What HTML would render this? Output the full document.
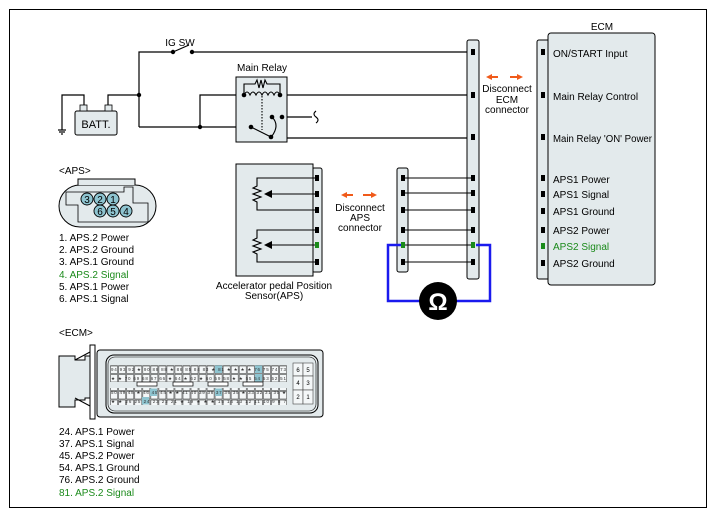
<!DOCTYPE html>
<html><head><meta charset="utf-8"><style>
body{margin:0;background:#fff}
svg{display:block;font-family:"Liberation Sans",Arial,sans-serif}
</style></head><body>
<svg width="717" height="518" viewBox="0 0 717 518" xmlns="http://www.w3.org/2000/svg">
<defs>
<pattern id="pin" x="110" y="0" width="8.05" height="8.5" patternUnits="userSpaceOnUse">
<rect x="0.5" y="0.5" width="7.05" height="7.5" fill="#f4f7f8" stroke="#444" stroke-width="0.6"/>
</pattern>
</defs>
<rect x="9.5" y="9.5" width="697" height="498" fill="#fff" stroke="#000" stroke-width="1"/>
<g stroke="#000" stroke-width="1.2" fill="none">
<polyline points="139,127 139,52 173,52"/>
<line x1="173" y1="52" x2="189" y2="45"/>
<line x1="192" y1="52" x2="473" y2="52"/>
<polyline points="84,111 84,95 62,95 62,130"/>
<line x1="58" y1="130" x2="66" y2="130"/><line x1="59" y1="132" x2="65" y2="132"/><line x1="61" y1="134" x2="63" y2="134"/>
<polyline points="108,111 108,95 139,95"/>
<line x1="139" y1="127" x2="251" y2="127"/>
<polyline points="200,127 200,95 473,95"/>
<line x1="272" y1="117" x2="312" y2="117"/>
<polyline points="282,117 282,138 473,138"/>
</g>
<rect x="75" y="111" width="42" height="24" rx="2" fill="#e3eaec" stroke="#000"/>
<rect x="80" y="105" width="7" height="6" fill="#e3eaec" stroke="#000" stroke-width="0.8"/>
<rect x="105" y="105" width="7" height="6" fill="#e3eaec" stroke="#000" stroke-width="0.8"/>
<text x="96" y="128" font-size="11" text-anchor="middle">BATT.</text>
<text x="180" y="46" font-size="10" text-anchor="middle">IG SW</text>
<circle cx="173" cy="52" r="2.2"/><circle cx="192" cy="52" r="2.2"/>
<circle cx="139" cy="95" r="2.2"/><circle cx="200" cy="127" r="2.2"/>
<text x="262" y="71" font-size="10" text-anchor="middle">Main Relay</text>
<rect x="236" y="77" width="51" height="65" fill="#e3eaec" stroke="#000"/>
<g stroke="#000" stroke-width="1.1" fill="none">
<polyline points="244,95 244,84 255,84 257,80 259,88 261,80 263,88 265,80 267,84 280,84 280,95"/>
<path d="M244,95 q3,-6 6,0 q3,-6 6,0 q3,-6 6,0 q3,-6 6,0 q3,-6 6,0 q3,-6 6,0"/>
<line x1="262" y1="96" x2="262" y2="130" stroke-dasharray="1.5,1.5"/>
<line x1="251" y1="127" x2="271" y2="137"/>
<path d="M272,117 q8,8 0,19"/>
<path d="M316,111 q-4,3 0,6 q4,3 0,6"/>
</g>
<circle cx="244" cy="95" r="2.3"/><circle cx="280" cy="95" r="2.3"/>
<circle cx="272" cy="117" r="2.3"/><circle cx="282" cy="117" r="2.3"/>
<circle cx="251" cy="127" r="2.3"/><circle cx="271" cy="137" r="2.3"/>
<text x="59" y="174" font-size="10">&lt;APS&gt;</text>
<rect x="59" y="185" width="97" height="42" rx="21" fill="#e3eaec" stroke="#000"/>
<path d="M78,185 V179 H135 V185" fill="#e3eaec" stroke="#000"/>
<path d="M78,222 V205 H66 V192 H124 V187 H133 V203 H148 V222 Z" fill="none" stroke="#000" stroke-width="0.8"/>
<g fill="#8ec4d0" stroke="#000" stroke-width="0.9">
<circle cx="87" cy="199" r="6"/><circle cx="100" cy="199" r="6"/><circle cx="113" cy="199" r="6"/>
<circle cx="100" cy="211" r="6"/><circle cx="113" cy="211" r="6"/><circle cx="126" cy="211" r="6"/>
</g>
<g font-size="10" text-anchor="middle"><text x="87" y="203">3</text><text x="100" y="203">2</text><text x="113" y="203">1</text><text x="100" y="215">6</text><text x="113" y="215">5</text><text x="126" y="215">4</text></g>
<g font-size="10">
<text x="59" y="241">1. APS.2 Power</text>
<text x="59" y="253">2. APS.2 Ground</text>
<text x="59" y="265">3. APS.1 Ground</text>
<text x="59" y="278" fill="#1a8a1a">4. APS.2 Signal</text>
<text x="59" y="290">5. APS.1 Power</text>
<text x="59" y="302">6. APS.1 Signal</text>
</g>
<rect x="312" y="168" width="10" height="104" rx="2" fill="#e3eaec" stroke="#000"/>
<rect x="236" y="164" width="77" height="112" fill="#e3eaec" stroke="#000"/>
<g stroke="#000" stroke-width="1.1" fill="none">
<polyline points="316,178 257,178 257,186 253,188 261,191 253,194 261,197 253,200 257,202 257,210 316,210"/>
<line x1="272" y1="194" x2="316" y2="194"/>
<polyline points="316,230 257,230 257,238 253,240 261,243 253,246 261,249 253,252 257,254 257,262 316,262"/>
<line x1="272" y1="245" x2="316" y2="245"/>
</g>
<polygon points="264,194 272,190 272,198"/><polygon points="264,245 272,241 272,249"/>
<g fill="#000"><rect x="315" y="175" width="4" height="6"/><rect x="315" y="191" width="4" height="6"/><rect x="315" y="207" width="4" height="6"/><rect x="315" y="227" width="4" height="6"/><rect x="315" y="259" width="4" height="6"/></g>
<rect x="315" y="242" width="4" height="6" fill="#1a8a1a"/>
<text x="274" y="289" font-size="10" text-anchor="middle">Accelerator pedal Position</text>
<text x="274" y="299" font-size="10" text-anchor="middle">Sensor(APS)</text>
<g stroke="#f05a1a" stroke-width="2"><line x1="345" y1="195" x2="353" y2="195"/><line x1="363" y1="195" x2="372" y2="195"/></g>
<polygon points="341,195 347,192 347,198" fill="#f05a1a"/><polygon points="377,195 371,192 371,198" fill="#f05a1a"/>
<g font-size="10" text-anchor="middle"><text x="360" y="211">Disconnect</text><text x="360" y="221">APS</text><text x="360" y="231">connector</text></g>
<rect x="397" y="168" width="11" height="104" rx="2" fill="#e3eaec" stroke="#000"/>
<rect x="467" y="40" width="12" height="239" rx="2" fill="#e3eaec" stroke="#000"/>
<g stroke="#000" stroke-width="1.1">
<line x1="403" y1="178" x2="473" y2="178"/><line x1="403" y1="193" x2="473" y2="193"/><line x1="403" y1="210" x2="473" y2="210"/>
<line x1="403" y1="230" x2="473" y2="230"/><line x1="403" y1="245" x2="473" y2="245"/><line x1="403" y1="262" x2="473" y2="262"/>
</g>
<g fill="#000">
<rect x="401" y="175" width="4" height="6"/><rect x="401" y="190" width="4" height="6"/><rect x="401" y="207" width="4" height="6"/><rect x="401" y="227" width="4" height="6"/><rect x="401" y="259" width="4" height="6"/>
<rect x="471" y="49" width="4" height="6"/><rect x="471" y="92" width="4" height="6"/><rect x="471" y="134" width="4" height="6"/><rect x="471" y="175" width="4" height="6"/><rect x="471" y="190" width="4" height="6"/><rect x="471" y="207" width="4" height="6"/><rect x="471" y="227" width="4" height="6"/><rect x="471" y="259" width="4" height="6"/>
</g>
<rect x="401" y="242" width="4" height="6" fill="#1a8a1a"/><rect x="471" y="242" width="4" height="6" fill="#1a8a1a"/>
<polyline points="401,245 388,245 388,301 490,301 490,245 476,245" fill="none" stroke="#1a1aee" stroke-width="2.5"/>
<circle cx="438" cy="301" r="19" fill="#000"/>
<text x="438" y="310" font-size="24" font-weight="bold" fill="#fff" text-anchor="middle">Ω</text>
<g stroke="#f05a1a" stroke-width="2"><line x1="490" y1="77" x2="498" y2="77"/><line x1="510" y1="77" x2="518" y2="77"/></g>
<polygon points="486,77 492,74 492,80" fill="#f05a1a"/><polygon points="523,77 517,74 517,80" fill="#f05a1a"/>
<g font-size="10" text-anchor="middle"><text x="507" y="92">Disconnect</text><text x="507" y="103">ECM</text><text x="507" y="113">connector</text></g>
<text x="602" y="30" font-size="10" text-anchor="middle">ECM</text>
<rect x="537" y="40" width="14" height="239" rx="2" fill="#e3eaec" stroke="#000"/>
<rect x="548" y="33" width="107" height="252" rx="3" fill="#e3eaec" stroke="#000"/>
<g fill="#000">
<rect x="541" y="49" width="4" height="6"/><rect x="541" y="92" width="4" height="6"/><rect x="541" y="134" width="4" height="6"/><rect x="541" y="175" width="4" height="6"/><rect x="541" y="191" width="4" height="6"/><rect x="541" y="208" width="4" height="6"/><rect x="541" y="227" width="4" height="6"/><rect x="541" y="260" width="4" height="6"/>
</g>
<rect x="541" y="243" width="4" height="6" fill="#1a8a1a"/>
<g font-size="10">
<text x="553" y="57">ON/START Input</text>
<text x="553" y="100">Main Relay Control</text>
<text x="553" y="142" textLength="99" lengthAdjust="spacingAndGlyphs">Main Relay 'ON' Power</text>
<text x="553" y="183">APS1 Power</text>
<text x="553" y="198">APS1 Signal</text>
<text x="553" y="215">APS1 Ground</text>
<text x="553" y="234">APS2 Power</text>
<text x="553" y="250" fill="#1a8a1a">APS2 Signal</text>
<text x="553" y="267">APS2 Ground</text>
</g>
<text x="59" y="336" font-size="10">&lt;ECM&gt;</text>
<path d="M59,356 H75 V360 H85 V356 H95 V398 H85 V400 H75 V407 H59 Z" fill="#e3eaec" stroke="#000"/>
<rect x="90" y="345" width="5" height="74" fill="#fff" stroke="#000"/>
<path d="M75,360 L90,352 M75,398 L90,406" stroke="#000" fill="none"/>
<rect x="97" y="350" width="226" height="67" rx="3" fill="#e3eaec" stroke="#000"/>
<rect x="106" y="355" width="212" height="58" rx="8" fill="none" stroke="#000" stroke-width="1"/>
<rect x="108" y="357" width="208" height="54" rx="7" fill="none" stroke="#000" stroke-width="0.6"/>
<rect x="110" y="365" width="177" height="17" fill="url(#pin)"/>
<rect x="110" y="388" width="177" height="17" fill="url(#pin)"/>
<g fill="#8ec4d0"><rect x="215" y="365.5" width="7" height="7.5"/><rect x="255" y="365.5" width="7" height="7.5"/><rect x="255" y="374" width="7" height="7.5"/><rect x="150" y="388.5" width="7" height="7.5"/><rect x="215" y="388.5" width="7" height="7.5"/><rect x="142" y="397" width="7" height="7.5"/></g>
<g fill="#fff" stroke="#000" stroke-width="0.7"><rect x="137" y="382" width="20" height="4"/><rect x="173" y="382" width="20" height="4"/><rect x="208" y="382" width="20" height="4"/><rect x="243" y="382" width="20" height="4"/></g>
<g font-size="4.5" fill="#333">
<text x="111" y="371" textLength="175">94 93 92 ★ 90 89 88 ★ 86 85 84 83 ★ 81 ★ ★ ★ ★ 76 75 74 73</text>
<text x="111" y="380" textLength="175">★ ★ 70 69 68 67 66 ★ 64 ★ 62 ★ 60 59 58 ★ ★ 55 54 53 52 51</text>
<text x="111" y="394" textLength="175">50 49 48 ★ 46 45 44 ★ ★ 41 40 39 38 37 36 35 ★ 33 32 31 30 ★</text>
<text x="111" y="403" textLength="175">★ ★ 26 25 24 23 22 21 ★ 19 ★ ★ ★ 15 14 13 12 11 10 9 8 7</text>
</g>
<g fill="#f4f7f8" stroke="#444" stroke-width="0.6">
<rect x="293" y="363" width="10" height="13"/><rect x="303" y="363" width="10" height="13"/><rect x="293" y="376" width="10" height="14"/><rect x="303" y="376" width="10" height="14"/><rect x="293" y="390" width="10" height="14"/><rect x="303" y="390" width="10" height="14"/>
</g>
<g font-size="6" text-anchor="middle"><text x="298" y="372">6</text><text x="308" y="372">5</text><text x="298" y="385">4</text><text x="308" y="385">3</text><text x="298" y="399">2</text><text x="308" y="399">1</text></g>
<g font-size="10">
<text x="59" y="435">24. APS.1 Power</text>
<text x="59" y="447">37. APS.1 Signal</text>
<text x="59" y="459">45. APS.2 Power</text>
<text x="59" y="471">54. APS.1 Ground</text>
<text x="59" y="483">76. APS.2 Ground</text>
<text x="59" y="496" fill="#1a8a1a">81. APS.2 Signal</text>
</g>
</svg>
</body></html>
